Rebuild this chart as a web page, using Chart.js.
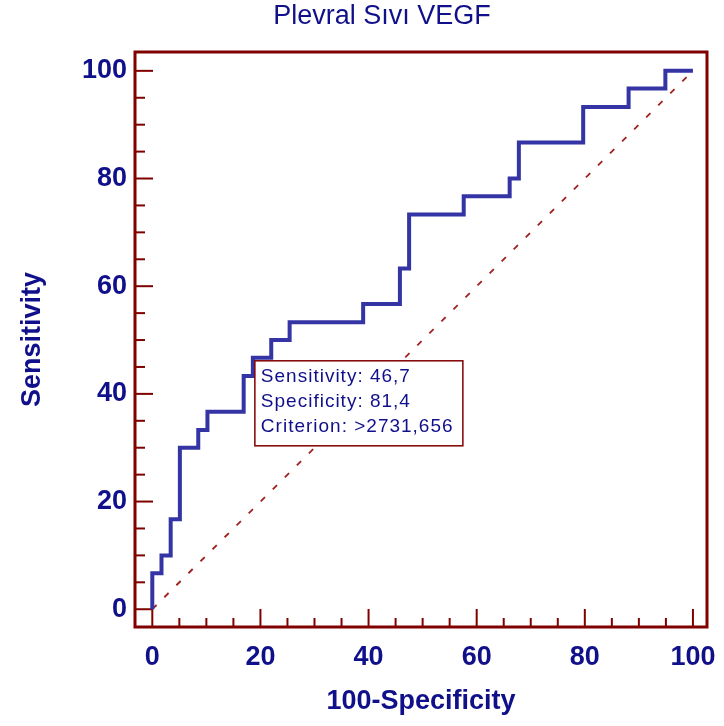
<!DOCTYPE html>
<html>
<head>
<meta charset="utf-8">
<title>Plevral Sıvı VEGF</title>
<script src="https://cdn.jsdelivr.net/npm/chart.js@4.4.0/dist/chart.umd.min.js"></script>
<style>
  html, body { margin: 0; padding: 0; background: #fff; }
  #wrap { width: 724px; height: 726px; }
</style>
</head>
<body>
<div id="wrap"><canvas id="roc"></canvas></div>
<script>
// ROC curve corner points (100-Specificity, Sensitivity)
const fprValues = [0, 0, 1.7, 1.7, 3.4, 3.4, 5.1, 5.1, 8.5, 8.5, 10.2, 10.2, 16.9, 16.9, 18.6, 18.6, 22.0, 22.0, 25.4, 25.4,
  39.0, 39.0, 45.8, 45.8, 47.5, 47.5, 57.6, 57.6, 66.1, 66.1, 67.8, 67.8, 79.7, 79.7, 88.1, 88.1, 94.9, 94.9, 100];
const sensValues = [0, 6.7, 6.7, 10, 10, 16.7, 16.7, 30, 30, 33.3, 33.3, 36.7, 36.7, 43.3, 43.3, 46.7, 46.7, 50, 50, 53.3,
  53.3, 56.7, 56.7, 63.3, 63.3, 73.3, 73.3, 76.7, 76.7, 80, 80, 86.7, 86.7, 93.3, 93.3, 96.7, 96.7, 100, 100];

// reference diagonal
const diagX = [0, 100];
const diagY = [0, 100];

// axis ticks
const majorTicks = [0, 20, 40, 60, 80, 100];
const minorTicks = [5, 10, 15, 25, 30, 35, 45, 50, 55, 65, 70, 75, 85, 90, 95];

// criterion point and its info box
const criterionPoint = { x: 18.6, y: 46.7 };
const infoLines = ['Sensitivity: 46,7', 'Specificity: 81,4', 'Criterion: >2731,656'];
const chartTitle = 'Plevral Sıvı VEGF';

const FRAME = '#800000';
const NAVY = '#10108a';
const FONT = "'Liberation Sans', Arial, sans-serif";

const toPts = (xs, ys) => xs.map((x, i) => ({ x: x, y: ys[i] }));

// frame, inward ticks, title and info box
const frameAndTicks = {
  id: 'frameAndTicks',
  beforeDatasetsDraw(chart) {
    const { ctx, chartArea: a, scales: { x, y } } = chart;
    ctx.save();
    ctx.strokeStyle = FRAME;
    ctx.lineWidth = 2;
    majorTicks.forEach(v => {
      const py = y.getPixelForValue(v);
      ctx.beginPath(); ctx.moveTo(a.left, py); ctx.lineTo(a.left + 18, py); ctx.stroke();
      const px = x.getPixelForValue(v);
      ctx.beginPath(); ctx.moveTo(px, a.bottom); ctx.lineTo(px, a.bottom - 18); ctx.stroke();
    });
    minorTicks.forEach(v => {
      const py = y.getPixelForValue(v);
      ctx.beginPath(); ctx.moveTo(a.left, py); ctx.lineTo(a.left + 10, py); ctx.stroke();
      const px = x.getPixelForValue(v);
      ctx.beginPath(); ctx.moveTo(px, a.bottom); ctx.lineTo(px, a.bottom - 9); ctx.stroke();
    });
    ctx.lineWidth = 3;
    ctx.strokeRect(a.left, a.top, a.right - a.left, a.bottom - a.top);

    // title, centred a bit left of the plot area like the original
    ctx.fillStyle = NAVY;
    ctx.font = '27px ' + FONT;
    ctx.textAlign = 'center';
    ctx.textBaseline = 'middle';
    ctx.fillText(chartTitle, x.getPixelForValue(42.5), a.top - 35);
    ctx.restore();
  },
  afterDatasetsDraw(chart) {
    const { ctx, scales: { x, y } } = chart;
    const bx = x.getPixelForValue(criterionPoint.x) + 2;
    const by = y.getPixelForValue(criterionPoint.y) + 3;
    ctx.save();
    ctx.fillStyle = '#fff';
    ctx.fillRect(bx, by, 208, 85);
    ctx.strokeStyle = FRAME;
    ctx.lineWidth = 1.5;
    ctx.strokeRect(bx, by, 208, 85);
    ctx.fillStyle = NAVY;
    ctx.font = '19px ' + FONT;
    ctx.letterSpacing = '1px';
    ctx.textBaseline = 'middle';
    infoLines.forEach((t, i) => ctx.fillText(t, bx + 6, by + 16 + i * 25));
    ctx.restore();
  }
};

new Chart(document.getElementById('roc'), {
  type: 'scatter',
  data: {
    datasets: [
      {
        label: 'ROC',
        data: toPts(fprValues, sensValues),
        showLine: true,
        borderColor: '#3434a4',
        borderWidth: 4,
        pointRadius: 0,
        fill: false,
        order: 1
      },
      {
        label: 'Diagonal',
        data: toPts(diagX, diagY),
        showLine: true,
        borderColor: '#a02020',
        borderWidth: 1.8,
        borderDash: [6, 11],
        pointRadius: 0,
        fill: false,
        order: 2
      }
    ]
  },
  options: {
    responsive: true,
    maintainAspectRatio: false,
    animation: false,
    layout: { padding: { left: 0, right: 17, top: 52, bottom: 0 } },
    plugins: {
      legend: { display: false },
      tooltip: { enabled: false },
      title: { display: false }
    },
    scales: {
      x: {
        type: 'linear',
        min: -3.2,
        max: 102.6,
        afterBuildTicks: s => { s.ticks = majorTicks.map(v => ({ value: v })); },
        afterFit: s => { s.height = 99; s.paddingLeft = 0; s.paddingRight = 0; },
        grid: { display: false },
        border: { display: false },
        ticks: { color: NAVY, padding: 6, font: { family: FONT, size: 27, weight: 'bold' } },
        title: {
          display: true,
          text: '100-Specificity',
          color: NAVY,
          font: { family: FONT, size: 27, weight: 'bold' },
          padding: { top: 0, bottom: 8 }
        }
      },
      y: {
        type: 'linear',
        min: -3.3,
        max: 103.5,
        afterBuildTicks: s => { s.ticks = majorTicks.map(v => ({ value: v })); },
        afterFit: s => { s.width = 135; s.paddingTop = 0; s.paddingBottom = 0; },
        grid: { display: false },
        border: { display: false },
        ticks: { color: NAVY, padding: 0, font: { family: FONT, size: 27, weight: 'bold' } },
        title: {
          display: true,
          text: 'Sensitivity',
          color: NAVY,
          font: { family: FONT, size: 27, weight: 'bold' },
          padding: { top: 16, bottom: 0 }
        }
      }
    }
  },
  plugins: [frameAndTicks]
});
</script>
</body>
</html>
